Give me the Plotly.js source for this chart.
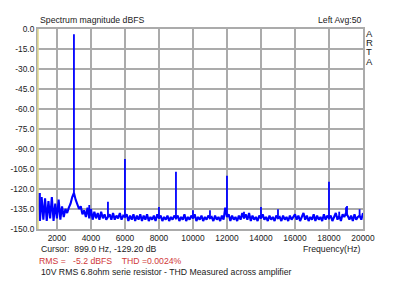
<!DOCTYPE html>
<html>
<head>
<meta charset="utf-8">
<script src="https://cdn.plot.ly/plotly-3.0.1.min.js"></script>
<style>html,body{margin:0;padding:0;background:#fff;}#chart{width:400px;height:293px;}</style>
</head>
<body>
<div id="chart"></div>
<script>
// FFT bins: first bin 900 Hz, 100 Hz spacing, last bin 20000 Hz
const binStart = 900;
const binStep = 100;
// noise floor magnitudes (dBFS), one row per 1000 Hz
const noiseMag = [
  -123,
  -144,-126,-143,-127,-144,-129,-142,-126,-144,-131,      // 1000-1900
  -142,-128,-143,-133,-141,-135,-138,-134,-131,-126,      // 2000-2900
  -123,-128,-132,-135,-133,-139,-136,-141,-134,-142,      // 3000-3900
  -135,-143,-137,-142,-138,-143,-137,-142,-139,-143,      // 4000-4900
  -141,-139,-143,-138,-143,-140,-142,-138,-143,-140,      // 5000-5900
  -141,-139,-144,-140,-143,-139,-144,-140,-143,-139,      // 6000-6900
  -144,-140,-143,-139,-144,-141,-143,-140,-144,-139,      // 7000-7900
  -142,-140,-144,-141,-143,-140,-144,-141,-143,-140,      // 8000-8900
  -142,-140,-144,-141,-143,-139,-144,-141,-143,-140,      // 9000-9900
  -142,-139,-144,-141,-143,-140,-144,-141,-143,-140,      // 10000-10900
  -142,-141,-144,-140,-143,-141,-144,-140,-143,-134,      // 11000-11900
  -141,-139,-144,-140,-143,-141,-144,-140,-143,-138,      // 12000-12900
  -142,-139,-143,-138,-144,-140,-143,-141,-144,-140,      // 13000-13900
  -142,-139,-143,-141,-144,-140,-143,-141,-144,-140,      // 14000-14900
  -142,-141,-144,-140,-143,-141,-144,-140,-143,-141,      // 15000-15900
  -139,-143,-140,-144,-141,-138,-143,-140,-144,-141,      // 16000-16900
  -143,-139,-144,-140,-143,-141,-144,-139,-143,-140,      // 17000-17900
  -142,-140,-144,-141,-138,-143,-140,-144,-139,-141,      // 18000-18900
  -138,-140,-143,-140,-144,-139,-143,-141,-140,-143,      // 19000-19900
  -138                                                    // 20000
];
// discrete spectral lines (fundamental, harmonics, spurs)
const lineFreq  = [3000, 6000, 9000, 12000, 18000, 5000, 8000, 10000, 11000, 13000, 14000, 15000, 18600, 19000, 19060, 19800, 3900, 1000];
const lineTop   = [-4,  -97.5, -107, -110, -114.5, -129.5, -133.5, -136, -136, -137, -133.5, -135.2, -137, -133.7, -132.8, -135.2, -132, -123];
const lineBase  = [-123, -141, -142, -141, -142, -141, -142, -142, -142, -142, -142, -142, -140, -138, -140, -140, -140, -140];

const xTickVals = [2000,4000,6000,8000,10000,12000,14000,16000,18000,20000];
const xTickText = ['2000','4000','6000','8000','10000','12000','14000','16000','18000','20000'];
const yTickVals = [0,-15,-30,-45,-60,-75,-90,-105,-120,-135,-150];
const yTickText = ['0.0','-15.0','-30.0','-45.0','-60.0','-75.0','-90.0','-105.0','-120.0','-135.0','-150.0'];

const noiseFreq = noiseMag.map((v,i)=>binStart + i*binStep);
const lx = [], ly = [];
lineFreq.forEach((f,i)=>{ lx.push(f,f,null); ly.push(lineBase[i], lineTop[i], null); });

const blue = '#0000ff';
const traces = [
  {x: noiseFreq, y: noiseMag, type:'scatter', mode:'lines', line:{color:blue, width:2.1}, hoverinfo:'skip'},
  {x: lx, y: ly, type:'scatter', mode:'lines', line:{color:blue, width:1.8}, hoverinfo:'skip', connectgaps:false}
];

const F = 'Arial, "Liberation Sans", sans-serif';
const txt = '#1a1a1a';
const layout = {
  width:400, height:293,
  margin:{l:38, r:37, t:29, b:64, pad:0},
  paper_bgcolor:'#fff', plot_bgcolor:'#fff',
  showlegend:false,
  font:{family:F, size:8.7, color:txt},
  xaxis:{range:[886,20000], tickvals:xTickVals, ticktext:xTickText, showgrid:true, gridcolor:'#ababab', gridwidth:2,
         zeroline:false, showline:true, linecolor:'#ababab', linewidth:2, mirror:true, ticks:'', ticklen:0,
         tickfont:{family:F, size:8.4, color:txt}, fixedrange:true},
  yaxis:{range:[-150,0], tickvals:yTickVals, ticktext:yTickText, showgrid:true, gridcolor:'#ababab', gridwidth:2,
         zeroline:false, showline:true, linecolor:'#ababab', linewidth:2, mirror:true, ticks:'', ticklen:0,
         tickfont:{family:F, size:8.4, color:txt}, fixedrange:true},
  shapes:[{type:'line', xref:'paper', yref:'paper', x0:0, x1:0, y0:0, y1:1, line:{color:'#e2d88a', width:1.5}, layer:'above'}],
  annotations:[
    {xref:'paper', yref:'paper', x:0, y:1, yshift:9, xanchor:'left', yanchor:'middle', text:'Spectrum magnitude dBFS', showarrow:false, font:{size:8.7}},
    {xref:'paper', yref:'paper', x:1, y:1, yshift:9, xanchor:'right', yanchor:'middle', text:'Left Avg:50', showarrow:false, font:{size:8.7}},
    {xref:'paper', yref:'paper', x:1, xshift:6, y:1, yshift:-4, xanchor:'center', yanchor:'middle', text:'A', showarrow:false, font:{size:9.5}},
    {xref:'paper', yref:'paper', x:1, xshift:6, y:1, yshift:-13.3, xanchor:'center', yanchor:'middle', text:'R', showarrow:false, font:{size:9.5}},
    {xref:'paper', yref:'paper', x:1, xshift:6, y:1, yshift:-22.6, xanchor:'center', yanchor:'middle', text:'T', showarrow:false, font:{size:9.5}},
    {xref:'paper', yref:'paper', x:1, xshift:6, y:1, yshift:-32, xanchor:'center', yanchor:'middle', text:'A', showarrow:false, font:{size:9.5}},
    {xref:'paper', yref:'paper', x:0, xshift:1, y:0, yshift:-20, xanchor:'left', yanchor:'middle', text:'Cursor:\u00a0 899.0 Hz, -129.20 dB', showarrow:false, font:{size:8.7}},
    {xref:'paper', yref:'paper', x:1, y:0, yshift:-20, xanchor:'right', yanchor:'middle', text:'Frequency(Hz)', showarrow:false, font:{size:8.7}},
    {xref:'paper', yref:'paper', x:0, xshift:-1, y:0, yshift:-32, xanchor:'left', yanchor:'middle', text:'RMS =\u00a0\u00a0 -5.2 dBFS\u00a0\u00a0\u00a0 THD =0.0024%', showarrow:false, font:{size:8.7, color:'#d03838'}},
    {xref:'paper', yref:'paper', x:0, xshift:1, y:0, yshift:-43, xanchor:'left', yanchor:'middle', text:'10V RMS 6.8ohm serie resistor - THD Measured across amplifier', showarrow:false, font:{size:8.7}}
  ]
};
Plotly.newPlot('chart', traces, layout, {staticPlot:true, displayModeBar:false});
</script>
</body>
</html>
